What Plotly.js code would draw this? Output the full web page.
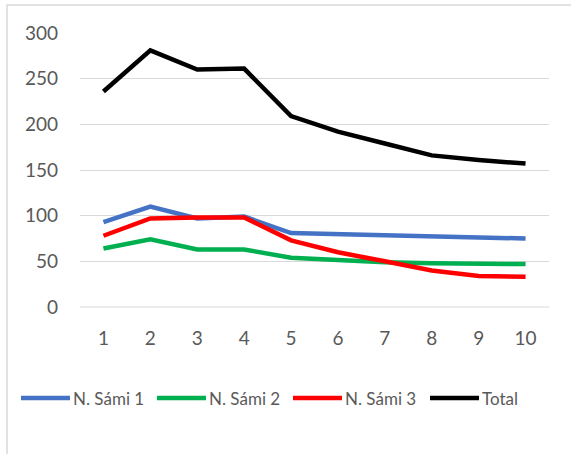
<!DOCTYPE html>
<html>
<head>
<meta charset="utf-8">
<script src="https://cdn.plot.ly/plotly-3.0.1.min.js"></script>
<style>html,body{margin:0;padding:0;background:#fff;}#chart{width:571px;height:454px;}</style>
</head>
<body>
<div id="chart"></div>
<script>
const categories = [1, 2, 3, 4, 5, 6, 7, 8, 9, 10];
const seriesNames = ["N. Sámi 1", "N. Sámi 2", "N. Sámi 3", "Total"];
const sami1 = [93, 110, 97, 99, 81, 80, 79, 77, 77, 75];
const sami2 = [64, 74, 63, 63, 54, 51, 49, 48, 48, 47];
const sami3 = [78, 97, 98, 98, 73, 60, 50, 40, 34, 33];
const total = [236, 281, 260, 261, 209, 192, 179, 166, 161, 157];
const yTicks = [0, 50, 100, 150, 200, 250, 300];

const colors = ["#4472C4", "#00B050", "#FF0000", "#000000"];
const values = [sami1, sami2, sami3, total];

const W = 571, H = 454;
const M = { l: 80, r: 22, t: 33, b: 147 };
const pw = W - M.l - M.r, ph = H - M.t - M.b;
const px2x = p => (p - M.l) / pw;
const py2y = p => (H - M.b - p) / ph;

const traces = values.map((v, i) => ({
  x: categories,
  y: v,
  name: seriesNames[i],
  type: "scatter",
  mode: "lines",
  line: { color: colors[i], width: 4.5 },
  showlegend: false
}));

// custom legend layout (pixel positions)
const legendStarts = [21, 157, 293, 430];
const legendY = 398;
const shapes = [
  {
    type: "line", xref: "paper", yref: "paper",
    x0: 0, x1: 1, y0: 0, y1: 0,
    line: { color: "#d9d9d9", width: 1 }
  },
  {
    type: "rect", xref: "paper", yref: "paper",
    x0: px2x(7), x1: px2x(700), y0: py2y(700), y1: py2y(5),
    line: { color: "#d9d9d9", width: 1.5 },
    fillcolor: "rgba(0,0,0,0)",
    layer: "below"
  }
];
const annotations = [];
legendStarts.forEach((s, i) => {
  shapes.push({
    type: "line", xref: "paper", yref: "paper",
    x0: px2x(s), x1: px2x(s + 49), y0: py2y(legendY), y1: py2y(legendY),
    line: { color: colors[i], width: 4.5 }
  });
  annotations.push({
    xref: "paper", yref: "paper",
    x: px2x(s + 50), y: py2y(legendY),
    xanchor: "left", yanchor: "middle",
    text: seriesNames[i], showarrow: false,
    font: { size: 17, color: "#595959" }
  });
});

const layout = {
  width: W,
  height: H,
  margin: M,
  paper_bgcolor: "#ffffff",
  plot_bgcolor: "#ffffff",
  font: { family: "Lato, 'Noto Sans', sans-serif", size: 19, color: "#595959" },
  showlegend: false,
  xaxis: {
    type: "linear",
    range: [0.5, 10.5],
    tickvals: categories,
    ticktext: categories.map(String),
    showgrid: false,
    zeroline: false,
    showline: false,
    ticks: "",
    ticklabelstandoff: 18,
    fixedrange: true
  },
  yaxis: {
    range: [0, 300],
    tickvals: yTicks,
    ticktext: yTicks.map(String),
    showgrid: true,
    gridcolor: "#d9d9d9",
    gridwidth: 1,
    zeroline: false,
    showline: false,
    ticks: "",
    ticklabelstandoff: 21,
    fixedrange: true
  },
  shapes: shapes,
  annotations: annotations
};

Plotly.newPlot("chart", traces, layout, { displayModeBar: false, staticPlot: true });
</script>
</body>
</html>
